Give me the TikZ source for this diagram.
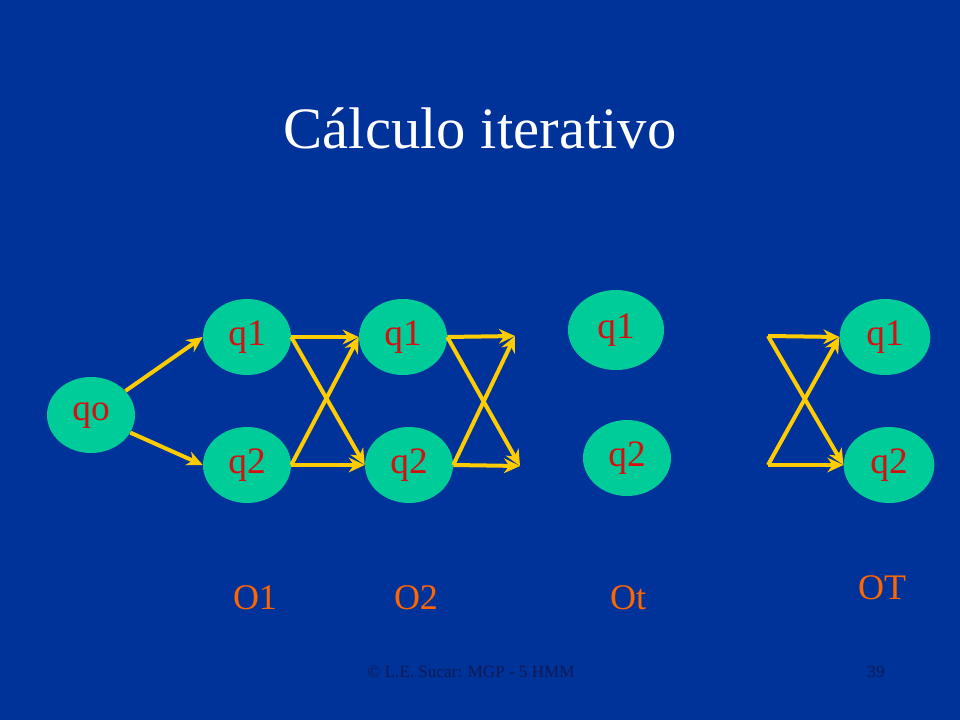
\documentclass[tikz,border=0pt]{standalone}
\usepackage{fontspec}
\setmainfont{Liberation Serif}
\usetikzlibrary{shapes.geometric,arrows.meta}

\definecolor{slideblue}{RGB}{0,51,153}
\definecolor{stategreen}{RGB}{0,204,153}
\definecolor{statered}{RGB}{214,16,16}
\definecolor{arrowyellow}{RGB}{255,204,0}
\definecolor{obsorange}{RGB}{255,102,0}
\definecolor{footblue}{RGB}{16,26,84}

\tikzset{
  state/.style={ellipse, fill=stategreen, minimum width=66pt, minimum height=57pt,
    inner sep=0pt, text=statered, font=\fontsize{28}{28}\selectfont},
  obs/.style={text=obsorange, font=\fontsize{27}{27}\selectfont},
  trans/.style={draw=arrowyellow, line width=3pt, -{Stealth[length=12pt,width=11pt]}}
}

\begin{document}
\begin{tikzpicture}[x=0.75pt,y=0.75pt,yscale=-1]
%background
\fill [slideblue] (0,0) rectangle (960,720);
\useasboundingbox (0,0) rectangle (960,720);

% Text Node
\node (title) at (480,128) [text=white, font=\fontsize{44}{44}\selectfont] {Cálculo iterativo};

%States
\node [state] (qo) at (91,415) {qo};
\node [state] (q1a) at (247,337) {q1};
\node [state] (q2a) at (247,465) {q2};
\node [state] (q1b) at (403,337) {q1};
\node [state] (q2b) at (409,465) {q2};
\node [state, minimum width=72pt, minimum height=60pt] (q1t) at (616,330) {q1};
\node [state] (q2t) at (627,458) {q2};
\node [state, minimum width=68pt] (q1T) at (885,337) {q1};
\node [state, minimum width=68pt] (q2T) at (889,465) {q2};

%free ends
\coordinate (r1) at (515,336);
\coordinate (r2) at (520,466);
\coordinate (l1) at (768,336);
\coordinate (l2) at (768,465);

%Straight Lines
\draw [trans] (qo) -- (q1a.west);
\draw [trans] (qo) -- (q2a.west);
\draw [trans] (q1a.east) -- (q1b.west);
\draw [trans] (q1a.east) -- (q2b.west);
\draw [trans] (q2a.east) -- (q1b.west);
\draw [trans] (q2a.east) -- (q2b.west);
\draw [trans] (q1b.east) -- (r1);
\draw [trans] (q1b.east) -- (r2);
\draw [trans] (q2b.east) -- (r1);
\draw [trans] (q2b.east) -- (r2);
\draw [trans] (l1) -- (q1T.west);
\draw [trans] (l1) -- (q2T.west);
\draw [trans] (l2) -- (q1T.west);
\draw [trans] (l2) -- (q2T.west);

% Text Node
\node [obs] (o1) at (255,598) {O1};
\node [obs] (o2) at (416,598) {O2};
\node [obs] (ot) at (628,598) {Ot};
\node [obs] (oT) at (882,588) {OT};

% Text Node
\node (foot) at (471,672) [text=footblue, font=\fontsize{12.8}{12.8}\selectfont] {© L.E. Sucar: MGP - 5 HMM};
\node (page) at (876,672) [text=footblue, font=\fontsize{12.8}{12.8}\selectfont] {39};

\end{tikzpicture}
\end{document}
